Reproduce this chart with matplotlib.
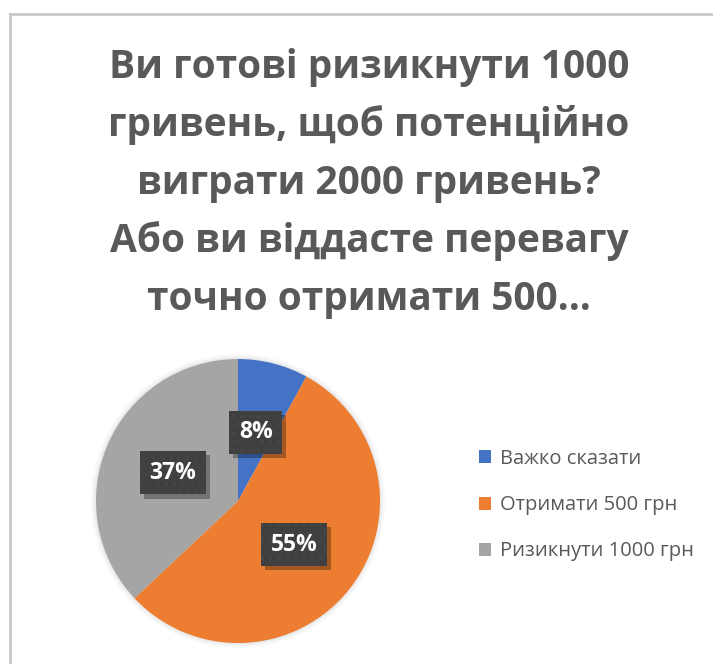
import matplotlib
matplotlib.use("Agg")
import matplotlib.pyplot as plt
from matplotlib.lines import Line2D
from matplotlib.patches import Circle
import matplotlib.patheffects as pe

# Survey answers
categories = ["Важко сказати", "Отримати 500 грн", "Ризикнути 1000 грн"]
shares = [8, 55, 37]
colors = ["#4472C4", "#ED7D31", "#A5A5A5"]
title_lines = [
    "Ви готові ризикнути 1000",
    "гривень, щоб потенційно",
    "виграти 2000 гривень?",
    "Або ви віддасте перевагу",
    "точно отримати 500…",
]

W, H = 713, 664
DPI = 100
plt.rcParams["font.family"] = ["Open Sans", "DejaVu Sans"]
plt.rcParams["hatch.linewidth"] = 0.6
fig = plt.figure(figsize=(W / DPI, H / DPI), dpi=DPI)
fig.patch.set_facecolor("white")


class BoxShadow(pe.AbstractPathEffect):
    """Plain offset shadow for a label box (no hatch copied)."""

    def __init__(self, offset=(3, -3), alpha=0.3):
        super().__init__(offset)
        self._alpha = alpha

    def draw_path(self, renderer, gc, tpath, affine, rgbFace=None):
        gc0 = renderer.new_gc()
        gc0.copy_properties(gc)
        gc0.set_hatch(None)
        gc0.set_linewidth(0)
        gc0.set_alpha(self._alpha)
        renderer.draw_path(gc0, tpath, affine + self._offset_transform(renderer),
                           (0, 0, 0))
        gc0.restore()


# Chart frame (only the top and left edges fall inside the canvas)
frame_kw = dict(color="#C8C8C8", lw=2.0, transform=fig.transFigure)
fig.add_artist(Line2D([9.5 / W, 9.5 / W], [0, 1 - 14 / H], **frame_kw))
fig.add_artist(Line2D([9.5 / W, 1], [1 - 14 / H, 1 - 14 / H], **frame_kw))

# Title, one wrapped line at a time
text_col = "#595959"
baselines = [78, 136, 194, 252, 310]
for line, yb in zip(title_lines, baselines):
    fig.text(369 / W, 1 - yb / H, line, ha="center", va="baseline",
             fontsize=28, fontweight="bold", color=text_col)

# Pie
cx, cy, r = 238, 501, 142
ax = fig.add_axes([(cx - r) / W, (H - cy - r) / H, 2 * r / W, 2 * r / H])
for k, a in [(1.035, 0.05), (1.02, 0.06), (1.008, 0.08)]:
    ax.add_patch(Circle((0, 0), k, color="#808080", alpha=a, lw=0,
                        zorder=0, clip_on=False))

wedges, _, autotexts = ax.pie(
    shares, colors=colors, startangle=90, counterclock=False,
    autopct="%1.0f%%", pctdistance=0.5, radius=1.0,
    wedgeprops=dict(linewidth=0),
)
ax.set_xlim(-1, 1)
ax.set_ylim(-1, 1)
ax.set_aspect("equal")
ax.axis("off")

for t in autotexts:
    t.set_fontsize(16.5)
    t.set_fontweight("bold")
    t.set_color("white")
    t.set_zorder(5)
    t.set_bbox(dict(boxstyle="square,pad=0.42", facecolor="#404040",
                    edgecolor="#4A4A4A", hatch="..", lw=0))
    t.get_bbox_patch().set_path_effects([BoxShadow((3, -3), 0.3), pe.Normal()])

# Legend
leg = fig.legend(
    wedges, categories, loc="upper left",
    bbox_to_anchor=(479 / W, 1 - 449 / H),
    frameon=False, fontsize=14.5, labelcolor=text_col,
    handlelength=0.62, handleheight=0.62, handletextpad=0.4,
    labelspacing=1.3, borderaxespad=0, borderpad=0,
)

fig.savefig("out.png", dpi=DPI, facecolor="white")
